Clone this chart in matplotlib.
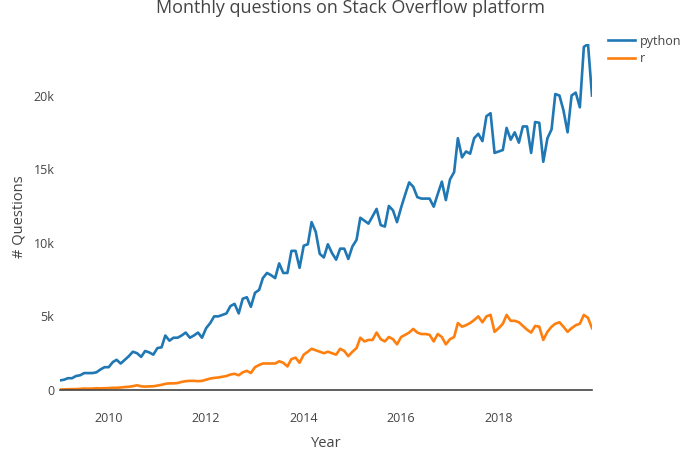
import pandas as pd
import matplotlib.pyplot as plt
import matplotlib.dates as mdates
from matplotlib.ticker import FuncFormatter

# monthly question counts, Jan 2009 - Dec 2019
months = pd.date_range("2009-01-01", periods=132, freq="MS")

python_q = [
    650, 700, 800, 800, 950, 1000, 1150, 1150, 1150, 1200, 1400, 1550,
    1550, 1900, 2050, 1800, 2050, 2300, 2600, 2500, 2250, 2650, 2550, 2400,
    2850, 2900, 3700, 3350, 3550, 3550, 3700, 3900, 3550, 3700, 3900, 3550,
    4200, 4550, 5000, 5000, 5100, 5200, 5700, 5850, 5200, 6200, 6300, 5650,
    6600, 6800, 7600, 7950, 7800, 7600, 8600, 7950, 7950, 9450, 9450, 8300,
    9800, 9900, 11400, 10750, 9250, 9000, 9900, 9300, 8850, 9600, 9600, 8900,
    9750, 10200, 11700, 11500, 11300, 11800, 12300, 11200, 11100, 12500, 12200, 11400,
    12400, 13300, 14100, 13800, 13100, 13000, 13000, 13000, 12450, 13300, 14150, 12900,
    14300, 14800, 17100, 15800, 16200, 16050, 17100, 17400, 16900, 18600, 18800, 16100,
    16200, 16300, 17800, 17000, 17500, 16800, 17900, 17900, 16100, 18200, 18150, 15500,
    17100, 17700, 20100, 20000, 19000, 17500, 20000, 20200, 19200, 23300, 23500, 20000,
]

r_q = [
    30, 40, 50, 60, 60, 80, 100, 90, 100, 120, 110, 120,
    130, 150, 150, 170, 200, 220, 260, 320, 250, 230, 250, 250,
    300, 350, 420, 450, 450, 470, 550, 600, 620, 620, 600, 620,
    700, 780, 820, 850, 900, 950, 1050, 1100, 1000, 1200, 1300, 1150,
    1550, 1700, 1800, 1800, 1800, 1800, 1950, 1850, 1600, 2100, 2200, 1850,
    2400, 2600, 2800, 2700, 2600, 2500, 2600, 2500, 2400, 2800, 2650, 2300,
    2600, 2850, 3550, 3300, 3400, 3400, 3900, 3450, 3300, 3600, 3450, 3100,
    3600, 3750, 3900, 4150, 3900, 3800, 3800, 3750, 3300, 3800, 3600, 3100,
    3450, 3600, 4550, 4300, 4400, 4550, 4750, 5000, 4600, 5000, 5100, 3950,
    4200, 4500, 5100, 4700, 4700, 4600, 4350, 4100, 3900, 4350, 4300, 3400,
    3950, 4300, 4500, 4600, 4300, 3950, 4200, 4400, 4500, 5100, 4900, 4200,
]

plt.rcParams['font.family'] = ['Open Sans', 'DejaVu Sans']
txt = '#444444'

fig = plt.figure(figsize=(7, 4.5), dpi=100)
ax = fig.add_axes([60 / 700, 60 / 450, 532 / 700, 346 / 450])

ax.plot(months, python_q, color='#1f77b4', lw=1.9, label='python')
ax.plot(months, r_q, color='#ff7f0e', lw=1.9, label='r')

ax.set_xlim(months[0], months[-1])
ax.set_ylim(0, max(python_q))

ax.xaxis.set_major_locator(mdates.YearLocator(2))
ax.xaxis.set_major_formatter(mdates.DateFormatter('%Y'))
ax.set_yticks([0, 5000, 10000, 15000, 20000])
ax.yaxis.set_major_formatter(FuncFormatter(lambda v, p: f"{int(v / 1000)}k" if v else "0"))

for s in ['top', 'right', 'left']:
    ax.spines[s].set_visible(False)
ax.spines['bottom'].set_color('#444444')
ax.spines['bottom'].set_linewidth(1.2)
ax.tick_params(axis='both', length=0, labelsize=9, labelcolor=txt)
ax.tick_params(axis='x', pad=16)
ax.tick_params(axis='y', pad=4)

ax.set_xlabel('Year', fontsize=10.5, color=txt, labelpad=8)
ax.set_ylabel('# Questions', fontsize=10.5, color=txt)
ax.yaxis.set_label_coords(-0.063, 0.5)
fig.text(0.5, 1 - 8 / 450, 'Monthly questions on Stack Overflow platform',
         fontsize=13, color=txt, ha='center', va='center')

fig.legend(loc='upper left', bbox_to_anchor=(0.853, 0.948), frameon=False,
           fontsize=9, handlelength=2.1, handletextpad=0.4, labelspacing=0.35,
           labelcolor=txt)

fig.savefig('out.png', dpi=100)
